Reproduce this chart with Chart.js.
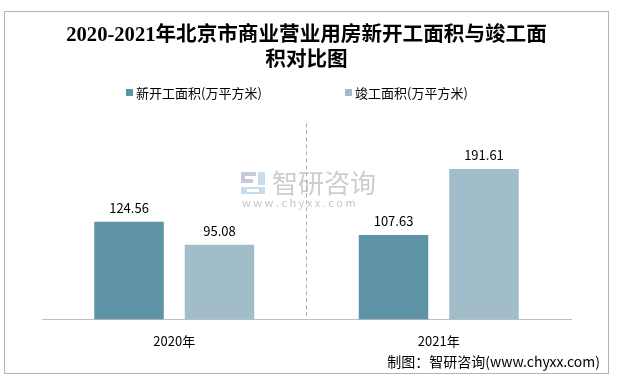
<!DOCTYPE html>
<html>
<head>
<meta charset="utf-8">
<script src="https://cdn.jsdelivr.net/npm/chart.js@4/dist/chart.umd.min.js"></script>
<style>
  html, body { margin: 0; padding: 0; background: #ffffff; }
  #wrap { position: relative; width: 620px; height: 382px; }
  #frame { position: absolute; left: 4px; top: 11px; width: 603px; height: 361px; border: 1px solid #b4b4b4; pointer-events: none; }
  canvas { position: absolute; left: 0; top: 0; }
</style>
</head>
<body>
<div id="wrap">
  <canvas id="c" width="620" height="382"></canvas>
  <div id="frame"></div>
</div>
<script>
const titleLines = ['2020-2021年北京市商业营业用房新开工面积与竣工面', '积对比图'];
const categories = ['2020年', '2021年'];
const seriesNames = ['新开工面积(万平方米)', '竣工面积(万平方米)'];
const newStartValues = [124.56, 107.63];
const completedValues = [95.08, 191.61];
const seriesColors = ['#5f93a7', '#a1bdca'];
const sourceText = '制图：智研咨询(www.chyxx.com)';

const CJK = "'Noto Sans CJK SC', 'Noto Sans', sans-serif";

const watermarkPlugin = {
  id: 'watermark',
  beforeDraw(chart) {
    const ctx = chart.ctx;
    ctx.save();
    // logo icon
    ctx.fillStyle = '#c5cbd7';
    ctx.fillRect(241, 172, 15, 4);
    ctx.fillRect(241, 172, 4, 11);
    ctx.fillRect(241, 179, 12, 4);
    ctx.fillStyle = '#c8dcec';
    ctx.fillRect(258, 172, 7, 13);
    ctx.fillRect(241, 187, 24, 7);
    ctx.fillStyle = '#ffffff';
    ctx.fillRect(247, 189, 12, 3);
    // text
    ctx.fillStyle = '#cdcdcd';
    ctx.font = '26px ' + CJK;
    ctx.textAlign = 'left';
    ctx.textBaseline = 'middle';
    ctx.fillText('智研咨询', 272, 183);
    ctx.font = '11px ' + CJK;
    ctx.fillStyle = '#c6c6c6';
    ctx.fillText('w w w . c h y x x . c o m', 242, 203);
    ctx.restore();
  }
};

const extrasPlugin = {
  id: 'extras',
  afterDraw(chart) {
    const ctx = chart.ctx;
    ctx.save();
    // legend
    ctx.font = '13px ' + CJK;
    ctx.textBaseline = 'middle';
    ctx.textAlign = 'left';
    const legendX = [126, 345];
    chart.data.datasets.forEach((ds, i) => {
      ctx.fillStyle = ds.backgroundColor;
      ctx.fillRect(legendX[i], 89, 7, 7);
      ctx.fillStyle = '#000000';
      ctx.fillText(ds.label, legendX[i] + 10, 93);
    });
    // value labels
    ctx.font = '13px ' + CJK;
    ctx.textAlign = 'center';
    ctx.fillStyle = '#000000';
    chart.data.datasets.forEach((ds, i) => {
      const meta = chart.getDatasetMeta(i);
      meta.data.forEach((bar, j) => {
        ctx.fillText(ds.data[j].toFixed(2), bar.x, bar.y - 14);
      });
    });
    // source
    ctx.font = '14px ' + CJK;
    ctx.textAlign = 'right';
    ctx.fillText(sourceText, 600, 362);
    ctx.restore();
  }
};

new Chart(document.getElementById('c'), {
  type: 'bar',
  data: {
    labels: categories,
    datasets: [
      { label: seriesNames[0], data: newStartValues, backgroundColor: seriesColors[0] },
      { label: seriesNames[1], data: completedValues, backgroundColor: seriesColors[1] }
    ]
  },
  options: {
    responsive: false,
    devicePixelRatio: 1,
    animation: false,
    categoryPercentage: 0.684,
    barPercentage: 0.768,
    layout: { padding: { left: 42, right: 49, top: 0, bottom: 19 } },
    plugins: {
      legend: { display: false },
      tooltip: { enabled: false },
      title: {
        display: true,
        text: titleLines,
        color: '#000000',
        font: { family: "'Liberation Serif', 'Noto Sans CJK SC', serif", size: 20.6, weight: 'bold', lineHeight: 1.22 },
        padding: { top: 23, bottom: 50 }
      }
    },
    scales: {
      x: {
        grid: {
          display: true,
          offset: true,
          drawTicks: false,
          lineWidth: 1,
          color: (c) => (c.index === 1 ? '#b0b0b0' : 'rgba(0,0,0,0)')
        },
        border: { display: true, color: '#bfbfbf', width: 1, dash: [4, 3] },
        ticks: { color: '#000000', padding: 14, font: { family: CJK, size: 13 } }
      },
      y: {
        display: false,
        min: 0,
        max: 250
      }
    }
  },
  plugins: [watermarkPlugin, extrasPlugin]
});
</script>
</body>
</html>
